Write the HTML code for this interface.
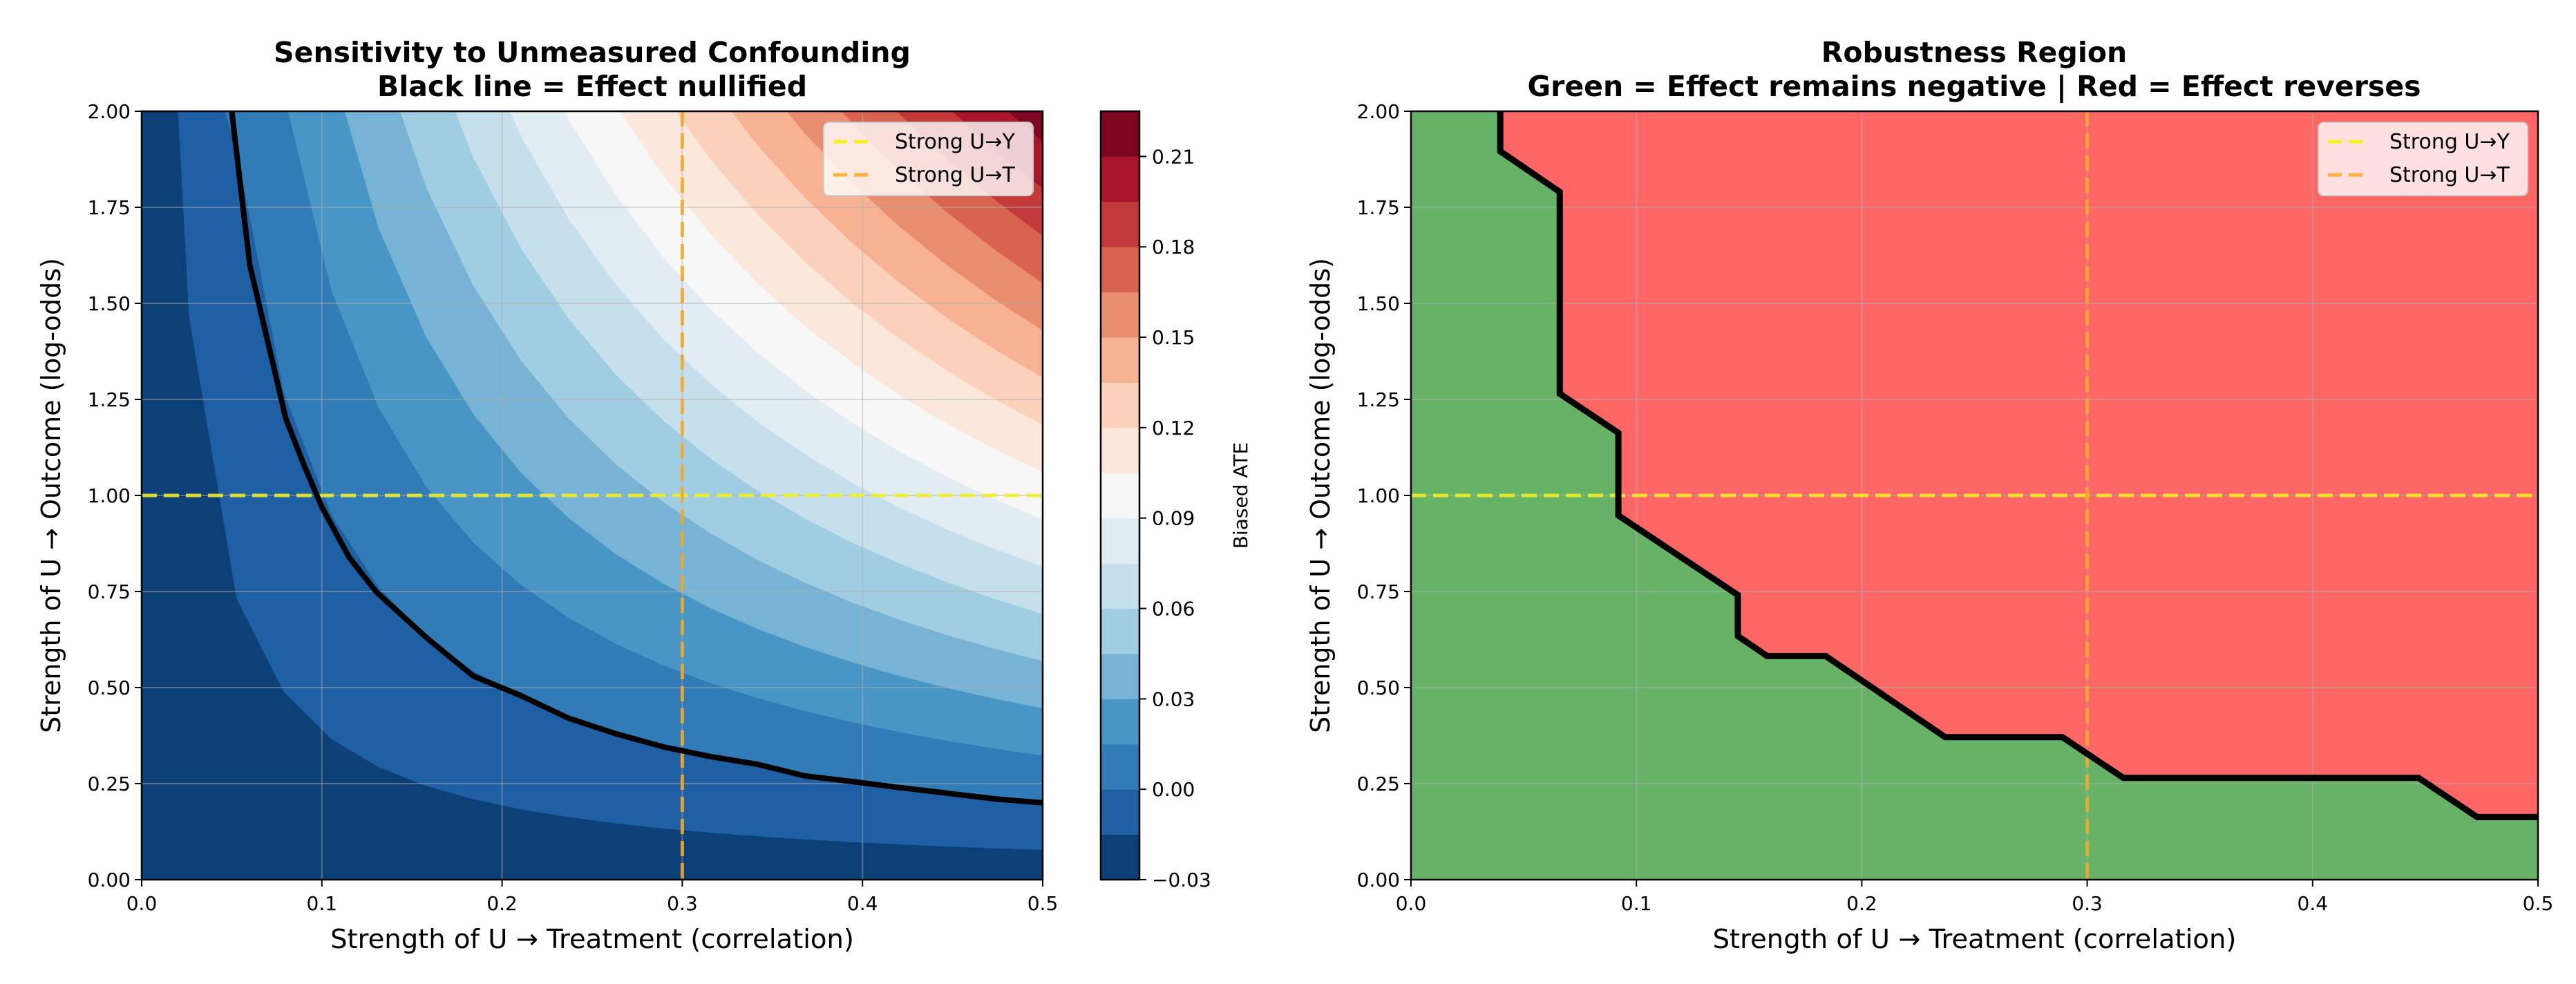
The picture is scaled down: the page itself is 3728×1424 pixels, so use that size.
<!DOCTYPE html>
<html><head><meta charset="utf-8"><style>
body{margin:0;background:#fff;}
svg text{font-family:"DejaVu Sans","Liberation Sans",sans-serif;fill:#000;}
</style></head><body>
<svg id="chart" width="3728" height="1419" viewBox="0 0 3728 1419" xmlns="http://www.w3.org/2000/svg">
<g id="left"></g>
<g id="cbar"></g>
<g id="right"></g>
</svg>
<script>
// ---- data ----
const xTicks = [0.0, 0.1, 0.2, 0.3, 0.4, 0.5];
const xTickLabels = ["0.0","0.1","0.2","0.3","0.4","0.5"];
const yTicks = [0, 0.25, 0.5, 0.75, 1.0, 1.25, 1.5, 1.75, 2.0];
const yTickLabels = ["0.00","0.25","0.50","0.75","1.00","1.25","1.50","1.75","2.00"];
const contourLevels = [-0.03,-0.015,0,0.015,0.03,0.045,0.06,0.075,0.09,0.105,0.12,0.135,0.15,0.165,0.18,0.195,0.21,0.225];
const cbarTicks = [-0.03,0,0.03,0.06,0.09,0.12,0.15,0.18,0.21];
const cbarTickLabels = ["\u22120.03","0.00","0.03","0.06","0.09","0.12","0.15","0.18","0.21"];
const ateIntercept = -0.0244;
const ateSlope = 0.244;
const gridX = [0,0.0263,0.0526,0.0789,0.1053,0.1316,0.1579,0.1842,0.2105,0.2368,0.2632,0.2895,0.3158,0.3421,0.3684,0.3947,0.4211,0.4474,0.4737,0.5];
const nullX = [0.05,0.055,0.06,0.07,0.08,0.09,0.1,0.115,0.13,0.158,0.184,0.21,0.237,0.263,0.29,0.316,0.342,0.368,0.395,0.42,0.447,0.474,0.5];
const nullY = [2.0,1.8,1.6,1.4,1.2,1.08,0.97,0.84,0.75,0.63,0.53,0.48,0.42,0.38,0.345,0.32,0.30,0.27,0.255,0.24,0.225,0.21,0.2];
const boundX = [0.0396,0.0396,0.066,0.066,0.092,0.092,0.145,0.145,0.158,0.184,0.237,0.289,0.316,0.447,0.473,0.5];
const boundY = [2.0,1.896,1.79,1.265,1.163,0.948,0.741,0.634,0.582,0.582,0.371,0.371,0.265,0.265,0.163,0.163];
const strongUY = 1.0;
const strongUT = 0.3;

const NS="http://www.w3.org/2000/svg";
function mk(parent,tag,attrs,text){const e=document.createElementNS(NS,tag);for(const k in attrs)e.setAttribute(k,attrs[k]);if(text!==undefined)e.textContent=text;parent.appendChild(e);return e;}
const TOP=161,BOT=1273;
function axes(x0,x1){return {sx:v=>x0+(v/0.5)*(x1-x0), sy:v=>BOT-(v/2)*(BOT-TOP), x0:x0, x1:x1};}
const RdBu=["#053061","#2166ac","#4393c3","#92c5de","#d1e5f0","#f7f7f7","#fddbc7","#f4a582","#d6604d","#b2182b","#67001f"];
function hex(h){return [1,3,5].map(i=>parseInt(h.substr(i,2),16));}
function cmap(t){const p=t*10,i=Math.min(9,Math.floor(p)),f=p-i;const a=hex(RdBu[i]),b=hex(RdBu[i+1]);return "rgb("+a.map((v,k)=>Math.round(v+(b[k]-v)*f)).join(",")+")";}

function drawFrame(g,A){
  xTicks.forEach((v,i)=>{const l=mk(g,"line",{x1:A.sx(v),x2:A.sx(v),y1:TOP,y2:BOT,stroke:"#b0b0b0","stroke-opacity":0.45,"stroke-width":2});
    });
  yTicks.forEach((v,i)=>{const l=mk(g,"line",{x1:A.x0,x2:A.x1,y1:A.sy(v),y2:A.sy(v),stroke:"#b0b0b0","stroke-opacity":0.45,"stroke-width":2});
    });
  const hy=mk(g,"line",{x1:A.x0,x2:A.x1,y1:A.sy(strongUY),y2:A.sy(strongUY),stroke:"#f5f020","stroke-width":5,"stroke-dasharray":"22 10","stroke-opacity":0.85});
  
  const vx=mk(g,"line",{x1:A.sx(strongUT),x2:A.sx(strongUT),y1:TOP,y2:BOT,stroke:"#f0a830","stroke-width":5,"stroke-dasharray":"22 10","stroke-opacity":0.9});
  
}
function drawAxes(g,A){
  const r=mk(g,"rect",{x:A.x0,y:TOP,width:A.x1-A.x0,height:BOT-TOP,fill:"none",stroke:"#000","stroke-width":2.5});
  
  xTicks.forEach((v,i)=>{mk(g,"line",{x1:A.sx(v),x2:A.sx(v),y1:BOT,y2:BOT+10,stroke:"#000","stroke-width":2});
    const t=mk(g,"text",{x:A.sx(v),y:BOT+44,"font-size":28,"text-anchor":"middle"},xTickLabels[i]);
    });
  yTicks.forEach((v,i)=>{mk(g,"line",{x1:A.x0-10,x2:A.x0,y1:A.sy(v),y2:A.sy(v),stroke:"#000","stroke-width":2});
    const t=mk(g,"text",{x:A.x0-16,y:A.sy(v)+10,"font-size":28,"text-anchor":"end"},yTickLabels[i]);
    });
  const c=(A.x0+A.x1)/2;
  const xl=mk(g,"text",{x:c,y:1372,"font-size":38.5,"text-anchor":"middle"},"Strength of U \u2192 Treatment (correlation)");
  
  const yx=A.x0-118;
  const yl=mk(g,"text",{x:yx,y:717,"font-size":38,"text-anchor":"middle",transform:"rotate(-90 "+yx+" 717)"},"Strength of U \u2192 Outcome (log-odds)");
  
}
function legend(g,x,y){
  const lg=mk(g,"g",{});
  mk(lg,"rect",{x:x,y:y,width:303,height:106,rx:8,fill:"#fff","fill-opacity":0.8,stroke:"#ccc","stroke-width":2});
  [["Strong U\u2192Y","#f5f020",y+38],["Strong U\u2192T","#ffb040",y+86]].forEach(d=>{
    const e=mk(lg,"g",{});
    mk(e,"line",{x1:x+14,x2:x+74,y1:d[2]-10,y2:d[2]-10,stroke:d[1],"stroke-width":5,"stroke-dasharray":"20 10"});
    mk(e,"text",{x:x+103,y:d[2],"font-size":30},d[0]);
  });
}
function title(g,cx,l1,l2){
  const t=mk(g,"text",{x:cx,y:90,"font-size":41,"font-weight":"bold","text-anchor":"middle"},l1);
  
  const t2=mk(g,"text",{x:cx,y:139,"font-size":41,"font-weight":"bold","text-anchor":"middle"},l2);
  
}

// ---- left panel ----
const L=document.getElementById("left");
const AL=axes(205,1509);
const nb=contourLevels.length-1;
const defs=mk(L,"defs",{});const cp=mk(defs,"clipPath",{id:"clipL"});mk(cp,"rect",{x:205,y:TOP,width:1304,height:BOT-TOP});
const fills=mk(L,"g",{"clip-path":"url(#clipL)"});
for(let i=0;i<nb;i++){
  const col=cmap((i+0.5)/nb);
  let el;
  if(i===0){el=mk(fills,"rect",{x:205,y:TOP,width:1304,height:BOT-TOP,fill:col});}
  else{
    const thr=(contourLevels[i]-ateIntercept)/ateSlope;
    let pts=[];
    gridX.forEach(x=>{if(x<=0)return;const y=thr/x;pts.push([AL.sx(x),AL.sy(Math.min(y,2.3))]);});
    pts.push([AL.sx(0.5),AL.sy(2.3)]);
    const xm=thr/2.3;pts.push([AL.sx(Math.max(xm,0.0001)),AL.sy(2.3)]);
    el=mk(fills,"polygon",{points:pts.map(p=>p.join(",")).join(" "),fill:col});
  }
  
  
}
drawFrame(L,AL);
const nl=mk(L,"polyline",{points:nullX.map((x,i)=>AL.sx(x)+","+AL.sy(nullY[i])).join(" "),fill:"none",stroke:"#000","stroke-width":8,"stroke-linejoin":"round"});

drawAxes(L,AL);
legend(L,1192,177);
title(L,857,"Sensitivity to Unmeasured Confounding","Black line = Effect nullified");

// ---- colorbar ----
const C=document.getElementById("cbar");
const cx0=1593,cx1=1649;
const cy=v=>BOT-(v-contourLevels[0])/(contourLevels[nb]-contourLevels[0])*(BOT-TOP);
for(let i=0;i<nb;i++){
  const r=mk(C,"rect",{x:cx0,y:cy(contourLevels[i+1]),width:cx1-cx0,height:cy(contourLevels[i])-cy(contourLevels[i+1])+0.5,fill:cmap((i+0.5)/nb)});
  
}
mk(C,"rect",{x:cx0,y:TOP,width:cx1-cx0,height:BOT-TOP,fill:"none",stroke:"#000","stroke-width":2.5});
cbarTicks.forEach((v,i)=>{mk(C,"line",{x1:cx1,x2:cx1+10,y1:cy(v),y2:cy(v),stroke:"#000","stroke-width":2});
  const t=mk(C,"text",{x:cx1+18,y:cy(v)+10,"font-size":28},cbarTickLabels[i]);
  });
const cl=mk(C,"text",{x:1805,y:717,"font-size":28,"text-anchor":"middle",transform:"rotate(-90 1805 717)"},"Biased ATE");


// ---- right panel ----
const R=document.getElementById("right");
const AR=axes(2042,3673);
const green=mk(R,"rect",{x:2042,y:TOP,width:3673-2042,height:BOT-TOP,fill:"#66b266"});

const rp=boundX.map((x,i)=>AR.sx(x)+","+AR.sy(boundY[i]));rp.push(AR.sx(0.5)+","+AR.sy(2));
const red=mk(R,"polygon",{points:rp.join(" "),fill:"#ff6666"});

drawFrame(R,AR);
const bl=mk(R,"polyline",{points:boundX.map((x,i)=>AR.sx(x)+","+AR.sy(boundY[i])).join(" "),fill:"none",stroke:"#000","stroke-width":9,"stroke-linejoin":"miter"});

drawAxes(R,AR);
legend(R,3355,177);
title(R,2857,"Robustness Region","Green = Effect remains negative | Red = Effect reverses");
</script>
</body></html>
